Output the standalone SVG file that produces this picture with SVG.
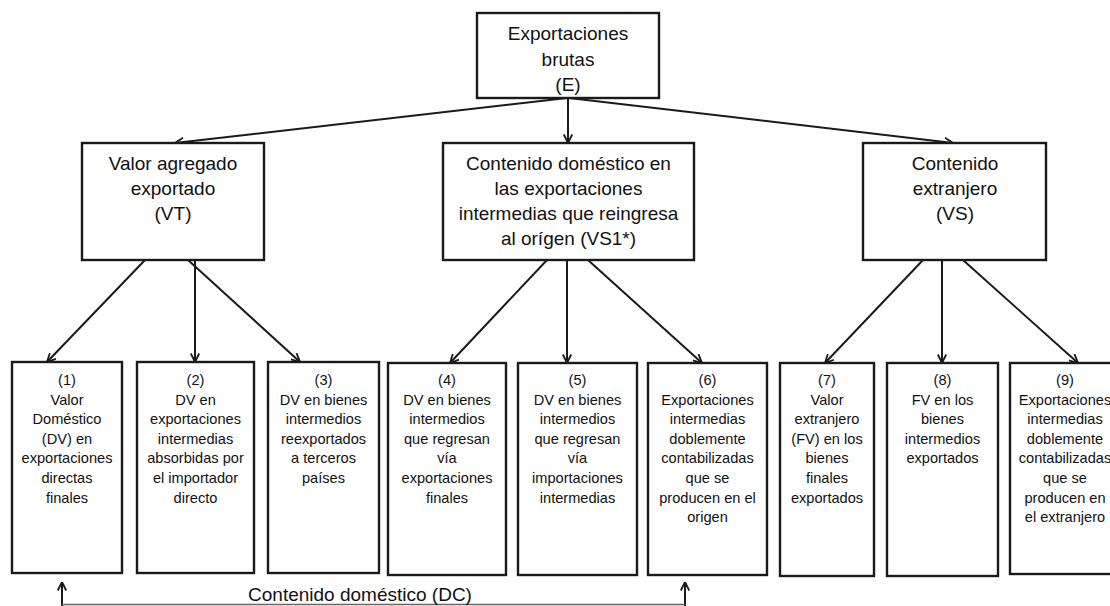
<svg xmlns="http://www.w3.org/2000/svg" width="1110" height="606" viewBox="0 0 1110 606">
<defs>
<style>
.box{fill:#fff;stroke:#1a1a1a;stroke-width:2.4}
.hd{font-family:"Liberation Sans",Arial,sans-serif;font-size:19px;fill:#111;text-anchor:middle}
.sm{font-family:"Liberation Sans",Arial,sans-serif;font-size:14.6px;fill:#111;text-anchor:middle}
.ln{stroke:#1a1a1a;stroke-width:2;fill:none;marker-end:url(#ah)}
</style>
<marker id="ah" viewBox="0 0 10 10" refX="9.5" refY="5" markerWidth="10" markerHeight="10" markerUnits="userSpaceOnUse" orient="auto">
<path d="M1,0.8 L9.5,5 L1,9.2" fill="none" stroke="#1a1a1a" stroke-width="1.8"/>
</marker>
</defs>
<rect width="1110" height="606" fill="#fff"/>

<g id="connectors">
<line class="ln" x1="567" y1="98" x2="175" y2="143"/>
<line class="ln" x1="568" y1="98" x2="568" y2="143"/>
<line class="ln" x1="569" y1="98" x2="953" y2="143"/>
<line class="ln" x1="145" y1="260" x2="47" y2="362"/>
<line class="ln" x1="195" y1="260" x2="195" y2="362"/>
<line class="ln" x1="188" y1="260" x2="300" y2="362"/>
<line class="ln" x1="547" y1="260" x2="450" y2="363"/>
<line class="ln" x1="567" y1="260" x2="567" y2="363"/>
<line class="ln" x1="588" y1="260" x2="702" y2="363"/>
<line class="ln" x1="923" y1="260" x2="825" y2="363"/>
<line class="ln" x1="942" y1="260" x2="942" y2="363"/>
<line class="ln" x1="963" y1="260" x2="1078" y2="363"/>
<line class="ln" x1="62" y1="606" x2="62" y2="582"/>
<line class="ln" x1="685" y1="606" x2="685" y2="582"/>
<line x1="62" y1="604.5" x2="685" y2="604.5" stroke="#666" stroke-width="1.3"/>
<text class="hd" x="360" y="601">Contenido doméstico (DC)</text>
</g>

<g id="E">
<rect class="box" x="477" y="13" width="182" height="85"/>
<text class="hd" x="568" y="40">Exportaciones</text>
<text class="hd" x="568" y="65.5">brutas</text>
<text class="hd" x="568" y="91">(E)</text>
</g>

<g id="VT">
<rect class="box" x="82" y="143" width="182" height="117"/>
<text class="hd" x="173" y="170">Valor agregado</text>
<text class="hd" x="173" y="195">exportado</text>
<text class="hd" x="173" y="220">(VT)</text>
</g>

<g id="VS1">
<rect class="box" x="443" y="143" width="251" height="117"/>
<text class="hd" x="568.5" y="170">Contenido doméstico en</text>
<text class="hd" x="568.5" y="195">las exportaciones</text>
<text class="hd" x="568.5" y="220">intermedias que reingresa</text>
<text class="hd" x="568.5" y="245">al orígen (VS1*)</text>
</g>

<g id="VS">
<rect class="box" x="863" y="143" width="183" height="117"/>
<text class="hd" x="955" y="170">Contenido</text>
<text class="hd" x="955" y="195">extranjero</text>
<text class="hd" x="955" y="220">(VS)</text>
</g>

<g id="n1">
<rect class="box" x="12" y="362" width="110" height="211"/>
<text class="sm" x="67" y="385">(1)<tspan x="67" dy="19.6">Valor</tspan><tspan x="67" dy="19.6">Doméstico</tspan><tspan x="67" dy="19.6">(DV) en</tspan><tspan x="67" dy="19.6">exportaciones</tspan><tspan x="67" dy="19.6">directas</tspan><tspan x="67" dy="19.6">finales</tspan></text>
</g>

<g id="n2">
<rect class="box" x="137" y="362" width="117" height="211"/>
<text class="sm" x="195.5" y="385">(2)<tspan x="195.5" dy="19.6">DV en</tspan><tspan x="195.5" dy="19.6">exportaciones</tspan><tspan x="195.5" dy="19.6">intermedias</tspan><tspan x="195.5" dy="19.6">absorbidas por</tspan><tspan x="195.5" dy="19.6">el importador</tspan><tspan x="195.5" dy="19.6">directo</tspan></text>
</g>

<g id="n3">
<rect class="box" x="268" y="362" width="111" height="211"/>
<text class="sm" x="323.5" y="385">(3)<tspan x="323.5" dy="19.6">DV en bienes</tspan><tspan x="323.5" dy="19.6">intermedios</tspan><tspan x="323.5" dy="19.6">reexportados</tspan><tspan x="323.5" dy="19.6">a terceros</tspan><tspan x="323.5" dy="19.6">países</tspan></text>
</g>

<g id="n4">
<rect class="box" x="388" y="363" width="118" height="212"/>
<text class="sm" x="447" y="385">(4)<tspan x="447" dy="19.6">DV en bienes</tspan><tspan x="447" dy="19.6">intermedios</tspan><tspan x="447" dy="19.6">que regresan</tspan><tspan x="447" dy="19.6">vía</tspan><tspan x="447" dy="19.6">exportaciones</tspan><tspan x="447" dy="19.6">finales</tspan></text>
</g>

<g id="n5">
<rect class="box" x="518" y="363" width="119" height="212"/>
<text class="sm" x="577.5" y="385">(5)<tspan x="577.5" dy="19.6">DV en bienes</tspan><tspan x="577.5" dy="19.6">intermedios</tspan><tspan x="577.5" dy="19.6">que regresan</tspan><tspan x="577.5" dy="19.6">vía</tspan><tspan x="577.5" dy="19.6">importaciones</tspan><tspan x="577.5" dy="19.6">intermedias</tspan></text>
</g>

<g id="n6">
<rect class="box" x="648" y="363" width="119" height="212"/>
<text class="sm" x="707.5" y="385">(6)<tspan x="707.5" dy="19.6">Exportaciones</tspan><tspan x="707.5" dy="19.6">intermedias</tspan><tspan x="707.5" dy="19.6">doblemente</tspan><tspan x="707.5" dy="19.6">contabilizadas</tspan><tspan x="707.5" dy="19.6">que se</tspan><tspan x="707.5" dy="19.6">producen en el</tspan><tspan x="707.5" dy="19.6">origen</tspan></text>
</g>

<g id="n7">
<rect class="box" x="780" y="363" width="94" height="213"/>
<text class="sm" x="827" y="385">(7)<tspan x="827" dy="19.6">Valor</tspan><tspan x="827" dy="19.6">extranjero</tspan><tspan x="827" dy="19.6">(FV) en los</tspan><tspan x="827" dy="19.6">bienes</tspan><tspan x="827" dy="19.6">finales</tspan><tspan x="827" dy="19.6">exportados</tspan></text>
</g>

<g id="n8">
<rect class="box" x="887" y="363" width="111" height="213"/>
<text class="sm" x="942.5" y="385">(8)<tspan x="942.5" dy="19.6">FV en los</tspan><tspan x="942.5" dy="19.6">bienes</tspan><tspan x="942.5" dy="19.6">intermedios</tspan><tspan x="942.5" dy="19.6">exportados</tspan></text>
</g>

<g id="n9">
<rect class="box" x="1010" y="363" width="112" height="211"/>
<text class="sm" x="1065" y="385">(9)<tspan x="1065" dy="19.6">Exportaciones</tspan><tspan x="1065" dy="19.6">intermedias</tspan><tspan x="1065" dy="19.6">doblemente</tspan><tspan x="1065" dy="19.6">contabilizadas</tspan><tspan x="1065" dy="19.6">que se</tspan><tspan x="1065" dy="19.6">producen en</tspan><tspan x="1065" dy="19.6">el extranjero</tspan></text>
</g>
</svg>
